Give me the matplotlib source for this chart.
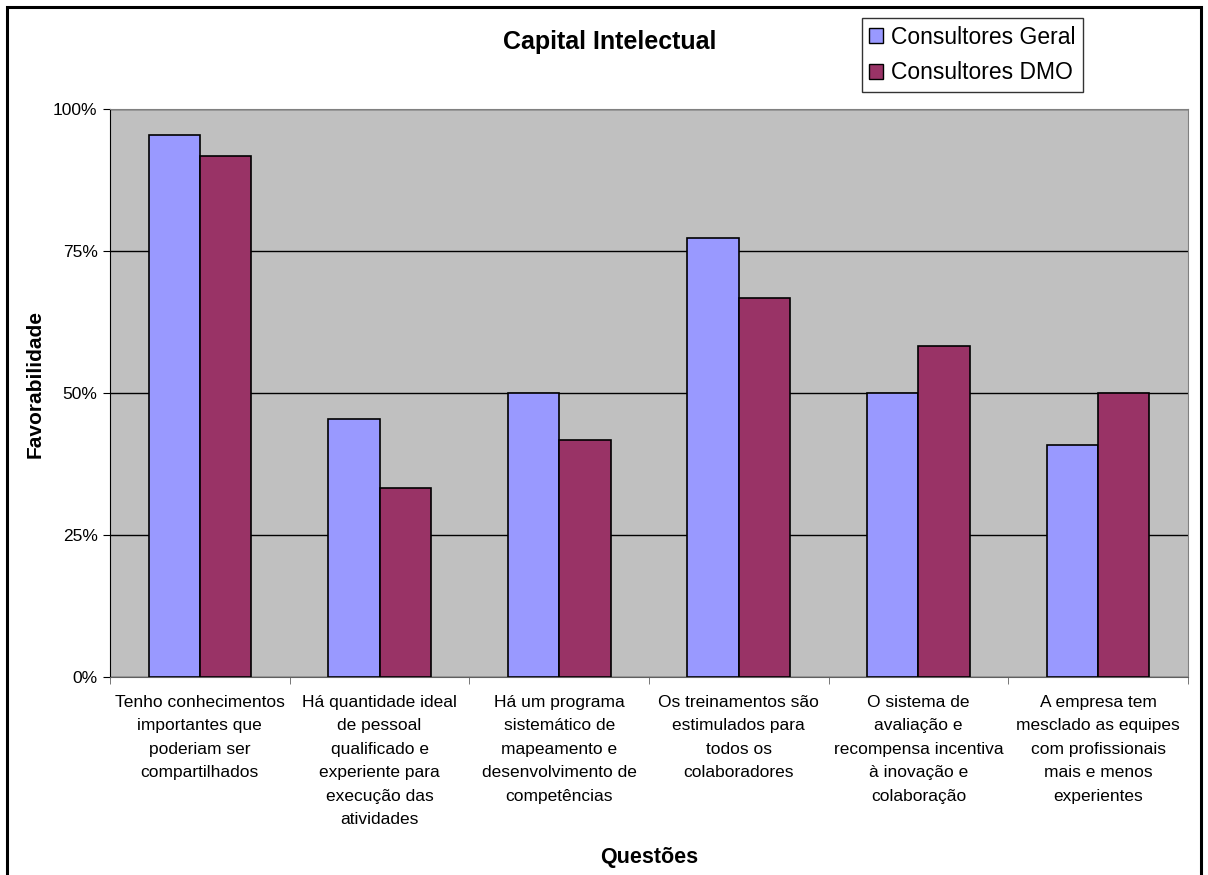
"""Bar chart of favourability by question, Capital Intelectual survey."""

import matplotlib.pyplot as plt
from matplotlib.patches import Patch, Rectangle
from matplotlib.ticker import FixedLocator, PercentFormatter
import numpy as np

plt.rcParams['font.family'] = ['Liberation Sans', 'DejaVu Sans']

questoes = [
    'Tenho conhecimentos\nimportantes que\npoderiam ser\ncompartilhados',
    'Há quantidade ideal\nde pessoal\nqualificado e\nexperiente para\nexecução das\natividades',
    'Há um programa\nsistemático de\nmapeamento e\ndesenvolvimento de\ncompetências',
    'Os treinamentos são\nestimulados para\ntodos os\ncolaboradores',
    'O sistema de\navaliação e\nrecompensa incentiva\nà inovação e\ncolaboração',
    'A empresa tem\nmesclado as equipes\ncom profissionais\nmais e menos\nexperientes',
]
geral = [95.5, 45.5, 50.0, 77.3, 50.0, 40.9]
dmo = [91.7, 33.3, 41.7, 66.7, 58.3, 50.0]
series = ['Consultores Geral', 'Consultores DMO']
cores = ['#9999FF', '#993366']


def main():
    fig = plt.figure(figsize=(12.08, 8.75), dpi=100)
    ax = fig.add_axes([0.0911, 0.2263, 0.8923, 0.6491])
    ax.set_facecolor('#C0C0C0')

    x = np.arange(len(questoes))
    w = 1 / 3.5
    ax.bar(x - w / 2, geral, w, color=cores[0], edgecolor='black', lw=1.2,
           zorder=3)
    ax.bar(x + w / 2, dmo, w, color=cores[1], edgecolor='black', lw=1.2,
           zorder=3)

    ax.set_xlim(-0.5, len(questoes) - 0.5)
    ax.set_ylim(0, 100)
    ax.set_yticks([0, 25, 50, 75, 100])
    ax.yaxis.set_major_formatter(PercentFormatter(decimals=0))
    ax.yaxis.grid(True, color='black', lw=1, zorder=1)

    # labels sit at the category centres, tick marks between categories
    ax.set_xticks(x)
    ax.set_xticklabels(questoes, fontsize=12.5, linespacing=1.7, va='top')
    ax.xaxis.set_minor_locator(FixedLocator(np.arange(-0.5, len(questoes), 1)))
    ax.tick_params(axis='x', which='major', length=0, pad=13)
    ax.tick_params(axis='x', which='minor', length=5, color='#606060')
    ax.tick_params(axis='y', length=5, labelsize=12.5, pad=4)

    for side in ['top', 'right']:
        ax.spines[side].set_color('#808080')
    ax.spines['left'].set_color('black')
    ax.spines['bottom'].set_color('#606060')

    ax.set_ylabel('Favorabilidade', fontsize=15, fontweight='bold')
    ax.yaxis.set_label_coords(-0.0603, 0.516)
    fig.text(0.537, 0.0195, 'Questões', fontsize=15.5, fontweight='bold',
             ha='center', va='center')
    fig.text(0.505, 0.952, 'Capital Intelectual', fontsize=18,
             fontweight='bold', ha='center', va='center')

    handles = [Patch(facecolor=c, edgecolor='black', lw=1) for c in cores]
    leg = fig.legend(handles, series, loc='upper left',
                     bbox_to_anchor=(0.7136, 0.979), fontsize=16.5,
                     frameon=True, fancybox=False, handlelength=0.6,
                     handleheight=0.6, handletextpad=0.35, labelspacing=0.55,
                     borderpad=0.32, borderaxespad=0)
    leg.get_frame().set_edgecolor('black')
    leg.get_frame().set_linewidth(1)

    # chart border, its lower edge runs past the bottom of the figure
    fig.patches.append(Rectangle((0.006, -0.05), 0.988, 1.042,
                                 transform=fig.transFigure, fill=False,
                                 edgecolor='black', lw=2.2))

    fig.savefig('out.png', dpi=100)


if __name__ == '__main__':
    main()
